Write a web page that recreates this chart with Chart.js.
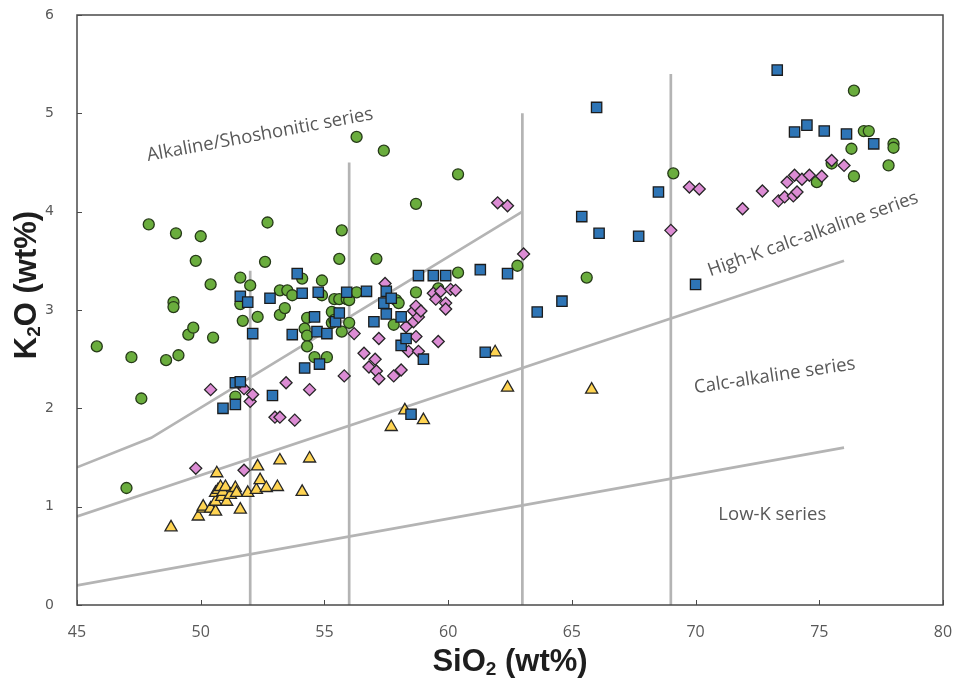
<!DOCTYPE html>
<html>
<head>
<meta charset="utf-8">
<script src="https://cdn.jsdelivr.net/npm/chart.js@4.4.1/dist/chart.umd.min.js"></script>
<style>
    html, body { margin: 0; padding: 0; background: #fff; }
    #wrap { width: 961px; height: 684px; }
</style>
</head>
<body>
<div id="wrap"><canvas id="chart"></canvas></div>
<script>
// ---- data (SiO2 wt%, K2O wt%) ----
const greenSiO2 = [45.8, 47.0, 47.2, 47.6, 47.9, 48.6, 48.9, 48.9, 49.0, 49.1, 49.5, 49.7, 49.8, 50.0, 50.4, 50.5,
    51.4, 51.6, 51.6, 51.7, 52.0, 52.3, 52.6, 52.7, 53.2, 53.2, 53.4, 53.5, 53.7, 54.1, 54.3, 54.2, 54.3, 54.3,
    54.9, 54.9, 54.6, 55.1, 55.3, 55.3, 55.4, 55.6, 55.4, 55.7, 55.9, 56.0, 56.0, 56.3, 55.6, 55.7, 56.3, 57.1,
    57.4, 57.9, 58.0, 57.8, 58.7, 58.7, 59.6, 60.4, 60.4, 62.8, 65.6, 69.1, 74.9, 75.5, 76.3, 76.4, 76.4, 76.8,
    77.0, 77.8, 78.0, 78.0];
const greenK2O = [2.63, 1.19, 2.52, 2.10, 3.87, 2.49, 3.08, 3.03, 3.78, 2.54, 2.75, 2.82, 3.50, 3.75, 3.26, 2.72,
    2.12, 3.33, 3.06, 2.89, 3.25, 2.93, 3.49, 3.89, 3.20, 2.95, 3.02, 3.20, 3.15, 3.32, 2.92, 2.81, 2.74, 2.63,
    3.30, 3.15, 2.52, 2.52, 2.98, 2.87, 3.11, 3.11, 2.90, 2.78, 3.11, 2.87, 3.10, 3.18, 3.52, 3.81, 4.76, 3.52,
    4.62, 3.10, 3.07, 2.85, 3.18, 4.08, 3.22, 4.38, 3.38, 3.45, 3.33, 4.39, 4.30, 4.49, 4.64, 4.36, 5.23, 4.82,
    4.82, 4.47, 4.69, 4.65];

const blueSiO2 = [50.9, 51.4, 51.4, 51.6, 51.6, 51.9, 52.1, 52.8, 52.9, 53.7, 53.9, 54.1, 54.2, 54.6, 54.7, 54.75,
    54.8, 55.1, 55.45, 55.6, 55.9, 56.7, 57.0, 57.4, 57.5, 57.5, 57.7, 58.1, 58.1, 58.3, 58.5, 58.8, 59.0, 59.4,
    59.9, 61.3, 61.5, 62.4, 63.6, 64.6, 65.4, 66.0, 66.1, 67.7, 68.5, 70.0, 73.3, 74.0, 74.5, 75.2, 76.1, 77.2];
const blueK2O = [2.00, 2.04, 2.26, 2.27, 3.14, 3.08, 2.76, 3.12, 2.13, 2.75, 3.37, 3.17, 2.41, 2.93, 2.78, 3.18,
    2.45, 2.76, 2.88, 2.97, 3.18, 3.19, 2.88, 3.07, 3.19, 2.96, 3.12, 2.64, 2.93, 2.71, 1.94, 3.35, 2.50, 3.35,
    3.35, 3.41, 2.57, 3.37, 2.98, 3.09, 3.95, 5.06, 3.78, 3.75, 4.20, 3.26, 5.44, 4.81, 4.88, 4.82, 4.79, 4.69];

const pinkSiO2 = [49.8, 50.4, 51.75, 51.75, 52.0, 52.1, 53.0, 53.2, 53.45, 53.8, 54.4, 55.8, 56.2, 56.6, 56.8,
    57.05, 57.1, 57.2, 57.2, 57.45, 57.8, 58.1, 58.3, 58.4, 58.6, 58.6, 58.7, 58.7, 58.8, 58.8, 58.9, 59.4, 59.5,
    59.6, 59.7, 59.9, 59.9, 60.1, 60.3, 62.0, 62.4, 63.05, 69.0, 69.75, 70.15, 71.9, 72.7, 73.35, 73.6, 73.7,
    73.95, 74.0, 74.1, 74.3, 74.6, 75.1, 75.5, 76.0];
const pinkK2O = [1.39, 2.19, 1.37, 2.20, 2.07, 2.14, 1.91, 1.91, 2.26, 1.88, 2.19, 2.33, 2.76, 2.56, 2.42,
    2.50, 2.38, 2.71, 2.30, 3.27, 2.33, 2.39, 2.83, 2.58, 2.99, 2.88, 3.04, 2.73, 2.58, 2.93, 2.99, 3.17, 3.11,
    2.68, 3.19, 3.07, 3.01, 3.21, 3.20, 4.09, 4.06, 3.57, 3.81, 4.25, 4.23, 4.03, 4.21, 4.11, 4.15, 4.30,
    4.16, 4.37, 4.20, 4.33, 4.37, 4.36, 4.52, 4.47];

const yellowSiO2 = [48.8, 49.9, 50.1, 50.1, 50.4, 50.6, 50.6, 50.6, 50.65, 50.7, 50.8, 50.85, 50.9, 51.0, 51.05,
    51.2, 51.4, 51.45, 51.6, 51.9, 52.25, 52.3, 52.4, 52.65, 53.1, 53.2, 54.1, 54.4, 57.7, 58.25, 59.0, 61.9,
    62.4, 65.8];
const yellowK2O = [0.79, 0.90, 0.98, 1.00, 0.98, 0.95, 1.05, 1.14, 1.34, 1.17, 1.20, 1.10, 1.15, 1.20, 1.05,
    1.12, 1.19, 1.14, 0.97, 1.14, 1.17, 1.41, 1.27, 1.19, 1.20, 1.47, 1.15, 1.49, 1.81, 1.98, 1.88, 2.57,
    2.21, 2.19];

// series boundaries
const lowKLineX = [45, 76];
const lowKLineY = [0.2, 1.6];
const calcAlkLineX = [45, 76];
const calcAlkLineY = [0.9, 3.5];
const highKLineX = [45, 48, 63];
const highKLineY = [1.4, 1.7, 4.0];
const dividerSiO2 = [52, 56, 63, 69];
const dividerTopK2O = [3.4, 4.5, 5.0, 5.4];

const seriesLabels = ['Alkaline/Shoshonitic series', 'High-K calc-alkaline series', 'Calc-alkaline series', 'Low-K series'];
const seriesLabelX = [52.4, 74.75, 73.2, 73.1];
const seriesLabelY = [4.78, 3.77, 2.33, 0.92];
const seriesLabelAngle = [-10.5, -19.5, -8.5, 0];

const xTickStep = 5;
const yTickStep = 1;

function pts(xs, ys) {
    return xs.map((x, i) => ({ x: x, y: ys[i] }));
}

const LINE_GRAY = '#b4b4b4';
const TEXT_GRAY = '#595959';
const AXIS_COLOR = '#4a4a4a';

const lineSet = (data) => ({
    type: 'line',
    data: data,
    showLine: true,
    borderColor: LINE_GRAY,
    borderWidth: 2.7,
    pointRadius: 0,
    fill: false,
    tension: 0,
    order: 10
});

const datasets = [
    { label: 'blue', data: pts(blueSiO2, blueK2O), pointStyle: 'rect', pointRadius: 7.3,
      backgroundColor: '#2e75b6', borderColor: '#1c1c1c', borderWidth: 1.3 },
    { label: 'yellow', data: pts(yellowSiO2, yellowK2O), pointStyle: 'triangle', pointRadius: 7,
      backgroundColor: '#ffd452', borderColor: '#262626', borderWidth: 1.3 },
    { label: 'pink', data: pts(pinkSiO2, pinkK2O), pointStyle: 'rectRot', pointRadius: 6,
      backgroundColor: '#dc8cd4', borderColor: '#262626', borderWidth: 1.3 },
    { label: 'green', data: pts(greenSiO2, greenK2O), pointStyle: 'circle', pointRadius: 5.5,
      backgroundColor: '#6aad3d', borderColor: '#263a18', borderWidth: 1.3 },
    lineSet(pts(lowKLineX, lowKLineY)),
    lineSet(pts(calcAlkLineX, calcAlkLineY)),
    lineSet(pts(highKLineX, highKLineY))
];
dividerSiO2.forEach((x, i) => {
    datasets.push(lineSet([{ x: x, y: 0 }, { x: x, y: dividerTopK2O[i] }]));
});

function drawRich(ctx, parts, cx, cy, rot) {
    ctx.save();
    ctx.translate(cx, cy);
    ctx.rotate(rot);
    let total = 0;
    parts.forEach(p => { ctx.font = p.font; p.w = ctx.measureText(p.text).width; total += p.w; });
    let x = -total / 2;
    ctx.textAlign = 'left';
    ctx.textBaseline = 'middle';
    parts.forEach(p => { ctx.font = p.font; ctx.fillText(p.text, x, p.dy || 0); x += p.w; });
    ctx.restore();
}

const frame = {
    id: 'frame',
    beforeDatasetsDraw(chart) {
        const { ctx, scales: { x, y } } = chart;
        ctx.save();
        // series labels
        ctx.fillStyle = TEXT_GRAY;
        ctx.font = '18.5px "Open Sans", sans-serif';
        ctx.textAlign = 'center';
        ctx.textBaseline = 'middle';
        seriesLabels.forEach((t, i) => {
            ctx.save();
            ctx.translate(x.getPixelForValue(seriesLabelX[i]), y.getPixelForValue(seriesLabelY[i]));
            ctx.rotate(seriesLabelAngle[i] * Math.PI / 180);
            ctx.fillText(t, 0, 0);
            ctx.restore();
        });
        ctx.restore();
    },
    afterDraw(chart) {
        const { ctx, chartArea: a, scales: { x, y } } = chart;
        ctx.save();
        ctx.strokeStyle = AXIS_COLOR;
        ctx.lineWidth = 1.5;
        ctx.strokeRect(a.left, a.top, a.right - a.left, a.bottom - a.top);
        // inward tick marks
        ctx.lineWidth = 1;
        ctx.beginPath();
        x.ticks.forEach(t => {
            const px = Math.round(x.getPixelForValue(t.value)) + 0.5;
            ctx.moveTo(px, a.bottom);
            ctx.lineTo(px, a.bottom - 5);
        });
        y.ticks.forEach(t => {
            const py = Math.round(y.getPixelForValue(t.value)) + 0.5;
            ctx.moveTo(a.left, py);
            ctx.lineTo(a.left + 5, py);
        });
        ctx.stroke();

        // axis titles with subscripts
        ctx.fillStyle = '#1e1e1e';
        const big = 'bold 31px "Liberation Sans", Arial, sans-serif';
        const sub = 'bold 19px "Liberation Sans", Arial, sans-serif';
        drawRich(ctx, [
            { text: 'K', font: big }, { text: '2', font: sub, dy: 8 }, { text: 'O (wt%)', font: big }
        ], 27, 285, -Math.PI / 2);
        drawRich(ctx, [
            { text: 'SiO', font: big }, { text: '2', font: sub, dy: 8 }, { text: ' (wt%)', font: big }
        ], (a.left + a.right) / 2, 662, 0);
        ctx.restore();
    }
};

new Chart(document.getElementById('chart'), {
    type: 'scatter',
    data: { datasets: datasets },
    options: {
        responsive: true,
        maintainAspectRatio: false,
        animation: false,
        layout: { autoPadding: false, padding: { left: 0, top: 15, right: 18, bottom: 0 } },
        plugins: {
            legend: { display: false },
            tooltip: { enabled: false }
        },
        scales: {
            x: {
                type: 'linear',
                min: 45,
                max: 80,
                ticks: {
                    stepSize: xTickStep,
                    padding: 18,
                    color: TEXT_GRAY,
                    font: { family: '"Liberation Sans Narrow", "Open Sans", sans-serif', size: 16 }
                },
                grid: { display: false, drawTicks: false },
                border: { display: false },
                afterFit(scale) {
                    scale.height = 79;
                    scale.paddingLeft = 0;
                    scale.paddingRight = 0;
                }
            },
            y: {
                type: 'linear',
                min: 0,
                max: 6,
                ticks: {
                    stepSize: yTickStep,
                    padding: 23,
                    color: TEXT_GRAY,
                    font: { family: '"DejaVu Sans", Verdana, sans-serif', size: 14 }
                },
                grid: { display: false, drawTicks: false },
                border: { display: false },
                afterFit(scale) {
                    scale.width = 77;
                    scale.paddingTop = 0;
                    scale.paddingBottom = 0;
                }
            }
        }
    },
    plugins: [frame]
});
</script>
</body>
</html>
